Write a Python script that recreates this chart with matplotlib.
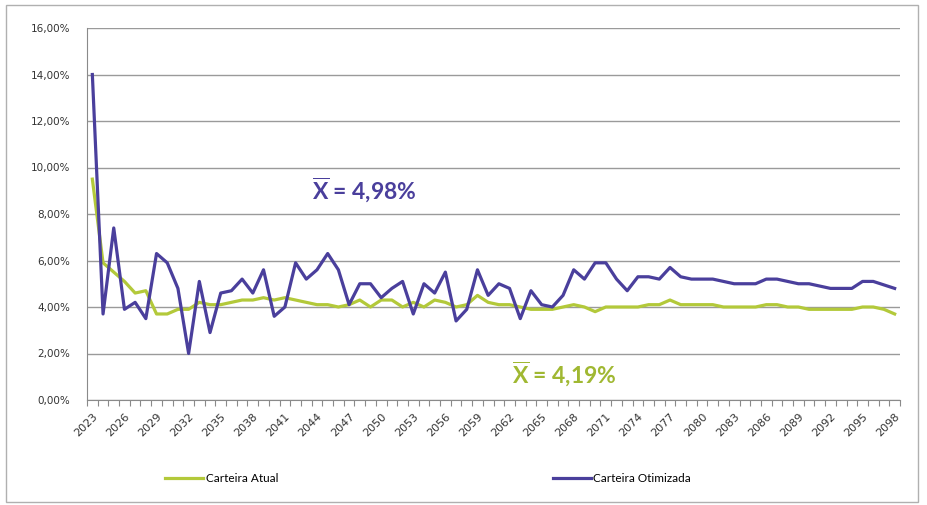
import matplotlib
matplotlib.use("Agg")
import matplotlib.pyplot as plt
import numpy as np
from matplotlib.ticker import FixedLocator, FuncFormatter

years = list(range(2023, 2099))

carteira_atual = [
    9.5, 5.9, 5.5, 5.1, 4.6, 4.7, 3.7, 3.7, 3.9, 3.9, 4.2, 4.1,
    4.1, 4.2, 4.3, 4.3, 4.4, 4.3, 4.4, 4.3, 4.2, 4.1, 4.1, 4.0,
    4.1, 4.3, 4.0, 4.3, 4.3, 4.0, 4.2, 4.0, 4.3, 4.2, 4.0, 4.1,
    4.5, 4.2, 4.1, 4.1, 4.0, 3.9, 3.9, 3.9, 4.0, 4.1, 4.0, 3.8,
    4.0, 4.0, 4.0, 4.0, 4.1, 4.1, 4.3, 4.1, 4.1, 4.1, 4.1, 4.0,
    4.0, 4.0, 4.0, 4.1, 4.1, 4.0, 4.0, 3.9, 3.9, 3.9, 3.9, 3.9,
    4.0, 4.0, 3.9, 3.7,
]

carteira_otimizada = [
    14.0, 3.7, 7.4, 3.9, 4.2, 3.5, 6.3, 5.9, 4.8, 2.0, 5.1, 2.9,
    4.6, 4.7, 5.2, 4.6, 5.6, 3.6, 4.0, 5.9, 5.2, 5.6, 6.3, 5.6,
    4.1, 5.0, 5.0, 4.4, 4.8, 5.1, 3.7, 5.0, 4.6, 5.5, 3.4, 3.9,
    5.6, 4.5, 5.0, 4.8, 3.5, 4.7, 4.1, 4.0, 4.5, 5.6, 5.2, 5.9,
    5.9, 5.2, 4.7, 5.3, 5.3, 5.2, 5.7, 5.3, 5.2, 5.2, 5.2, 5.1,
    5.0, 5.0, 5.0, 5.2, 5.2, 5.1, 5.0, 5.0, 4.9, 4.8, 4.8, 4.8,
    5.1, 5.1, 4.95, 4.8,
]

series_names = ["Carteira Atual", "Carteira Otimizada"]
mean_labels = ["4,19%", "4,98%"]

green = "#b3c93a"
blue = "#4a3f9c"

plt.rcParams["mathtext.fontset"] = "custom"
plt.rcParams["mathtext.bf"] = "Lato:bold"
plt.rcParams["mathtext.rm"] = "Lato"

fig = plt.figure(figsize=(9.27, 5.05), dpi=100)
ax = fig.add_axes([87/927, 1-400/505, (900-87)/927, (400-28)/505])

x = np.arange(len(years))
ax.plot(x, carteira_atual, color=green, lw=2.3, label=series_names[0], solid_joinstyle="round")
ax.plot(x, carteira_otimizada, color=blue, lw=2.3, label=series_names[1], solid_joinstyle="round")

ax.set_xlim(-0.5, len(years) - 0.5)
ax.set_ylim(0, 16)
ax.set_yticks(np.arange(0, 17, 2))
ax.yaxis.set_major_formatter(FuncFormatter(lambda v, p: f"{v:.2f}%".replace(".", ",")))
ax.grid(axis="y", color="#9a9a9a", lw=1.0)
ax.set_axisbelow(True)

major = x[::3]
ax.set_xticks(major)
ax.set_xticklabels([str(years[i]) for i in major], rotation=45, ha="right",
                   rotation_mode="anchor", fontsize=8, color="#333333")
ax.xaxis.set_minor_locator(FixedLocator(np.arange(-0.5, len(years), 1)))
ax.tick_params(axis="x", which="major", length=0, pad=8)
ax.tick_params(axis="x", which="minor", length=4, color="#8a8a8a", width=0.8)
ax.tick_params(axis="y", length=0, labelsize=7.5, labelcolor="#333333", pad=12)

for s in ["top", "right"]:
    ax.spines[s].set_visible(False)
ax.spines["left"].set_color("#8a8a8a")
ax.spines["bottom"].set_color("#8a8a8a")

ax.text(20.5, 8.6, r"$\mathbf{\overline{X}}$" + " = " + mean_labels[1], color=blue,
        fontsize=16.5, fontweight="bold", family="Lato", ha="left", va="baseline")
ax.text(39.2, 0.7, r"$\mathbf{\overline{X}}$" + " = " + mean_labels[0], color="#a0b832",
        fontsize=16.5, fontweight="bold", family="Lato", ha="left", va="baseline")

leg = fig.legend(loc="center", bbox_to_anchor=(0.462, 0.053), ncol=2, frameon=False,
                 prop={"family": "Lato", "size": 8.5},
                 handlelength=3.2, handletextpad=0.2, columnspacing=23.3)

# outer chart frame
fig.add_artist(plt.Rectangle((6/927, 3/505), 912/927, 497/505, transform=fig.transFigure,
                             fill=False, edgecolor="#b0b0b0", lw=1))

fig.savefig("out.png", dpi=100)
